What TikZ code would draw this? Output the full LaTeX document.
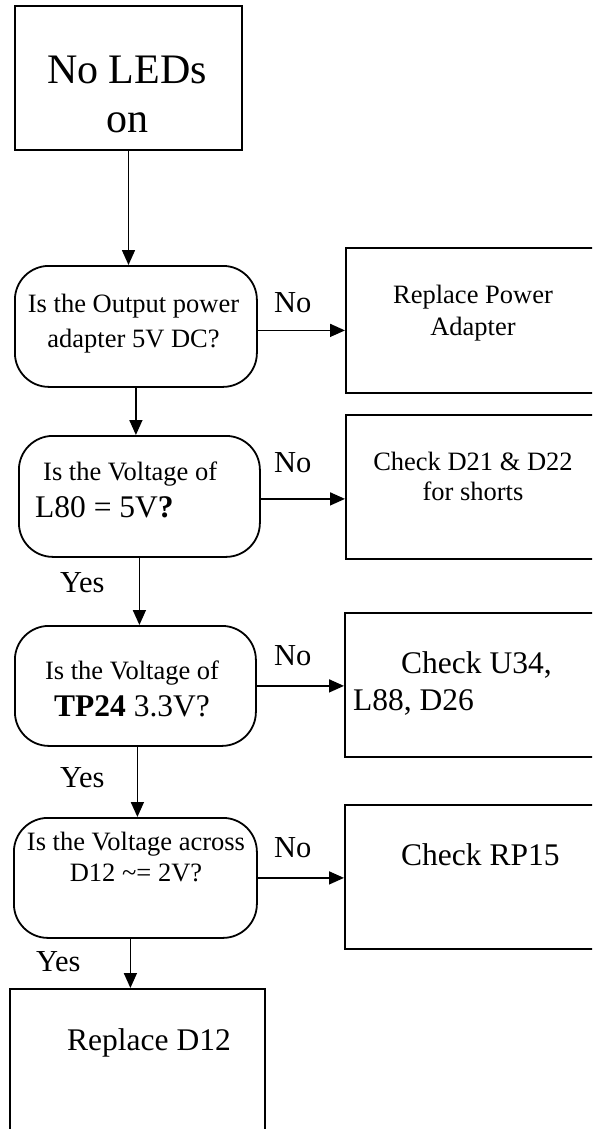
\documentclass[tikz,border=0pt]{standalone}
\usepackage{fontspec}
\setmainfont{Liberation Serif}
\usetikzlibrary{arrows.meta}

\newcommand{\midfont}{\fontsize{26.5}{33}\selectfont}
\newcommand{\bigfont}{\fontsize{31.5}{37}\selectfont}

\begin{document}
\begin{tikzpicture}[x=1pt, y=-1pt, >={Triangle[length=15pt,width=13pt]},
  actbox/.style={draw, line width=2pt, inner sep=0pt, anchor=north west},
  askbox/.style={actbox, line width=1.8pt, rounded corners=34pt},
  txt/.style={inner sep=0pt, align=center, anchor=base, font=\midfont},
  lbl/.style={inner sep=0pt, anchor=base west, font=\fontsize{30.5}{36}\selectfont},
  flow/.style={->, line width=1.6pt}]
\useasboundingbox (0,0) rectangle (592,1129);
\clip (0,0) rectangle (592,1129);

% left column
\node[actbox, minimum width=227pt, minimum height=144pt] (noled) at (14,5) {};
\node[askbox, minimum width=242pt, minimum height=121pt] (qadapt) at (14,265) {};
\node[askbox, minimum width=241pt, minimum height=121pt] (qlfive) at (18,435) {};
\node[askbox, minimum width=241pt, minimum height=120pt] (qtp) at (14,625) {};
\node[askbox, minimum width=243pt, minimum height=120pt] (qdiode) at (13,817) {};
\node[actbox, minimum width=255pt, minimum height=200pt] (fixled) at (9,988) {};

% right column
\node[actbox, minimum width=300pt, minimum height=145pt] (fixadapt) at (345,247) {};
\node[actbox, minimum width=300pt, minimum height=144pt] (fixshort) at (345,414) {};
\node[actbox, minimum width=300pt, minimum height=144pt] (fixreg) at (344,612) {};
\node[actbox, minimum width=300pt, minimum height=144pt] (fixrp) at (344,804) {};

% texts (base = last line)
\node[txt, font=\fontsize{42}{49}\selectfont] (noled-t) at (127,132) {No LEDs\\on};
\node[txt, font=\fontsize{26.5}{35}\selectfont] (qadapt-t) at (133.5,347) {Is the Output power\\adapter 5V DC?};
\node[txt, align=left, anchor=base west, font=\fontsize{26.5}{37}\selectfont] (qlfive-t) at (35,517) {\hspace*{8pt}Is the Voltage of\\{\bigfont L80 = 5V\textbf{?}}};
\node[txt, font=\fontsize{26.5}{37}\selectfont] (qtp-t) at (132,716) {Is the Voltage of\\{\bigfont\textbf{TP24} 3.3V?}};
\node[txt, font=\fontsize{26.5}{31}\selectfont] (qdiode-t) at (136,881) {Is the Voltage across\\D12 \textasciitilde= 2V?};
\node[txt, font=\bigfont, anchor=base west] (fixled-t) at (67,1050) {Replace D12};
\node[txt, font=\fontsize{26.5}{32}\selectfont] (fixadapt-t) at (473,335) {Replace Power\\Adapter};
\node[txt, font=\fontsize{26.5}{30}\selectfont] (fixshort-t) at (473,500) {Check D21 \& D22\\for shorts};
\node[txt, align=left, anchor=base west, font=\bigfont] (fixreg-t) at (353,710) {\hspace*{48pt}Check U34,\\L88, D26};
\node[txt, font=\bigfont, anchor=base west] (fixrp-t) at (401,865) {Check RP15};

% labels
\foreach \n/\y in {1/312,2/472,3/665,4/857} \node[lbl] (no\n) at (274,\y) {No};
\foreach \n/\x/\y in {1/60/592,2/60/787,3/36/971} \node[lbl] (yes\n) at (\x,\y) {Yes};

% connectors
\draw[flow] (noled.south) -- (noled.south |- qadapt.north);
\draw[flow] (qadapt.south) -- (qadapt.south |- qlfive.north);
\draw[flow] (qlfive.south) -- (qlfive.south |- qtp.north);
\draw[flow] ([xshift=2pt]qtp.south) -- ([xshift=2pt]qtp.south |- qdiode.north);
\draw[flow] ([xshift=-5pt]qdiode.south) -- ([xshift=-5pt]qdiode.south |- fixled.north);
\draw[flow] ([yshift=-4pt]qadapt.east) -- ([yshift=-4pt]qadapt.east -| fixadapt.west);
\draw[flow] ([yshift=-2.5pt]qlfive.east) -- ([yshift=-2.5pt]qlfive.east -| fixshort.west);
\draw[flow] (qtp.east) -- (qtp.east -| fixreg.west);
\draw[flow] (qdiode.east) -- (qdiode.east -| fixrp.west);
\end{tikzpicture}
\end{document}
